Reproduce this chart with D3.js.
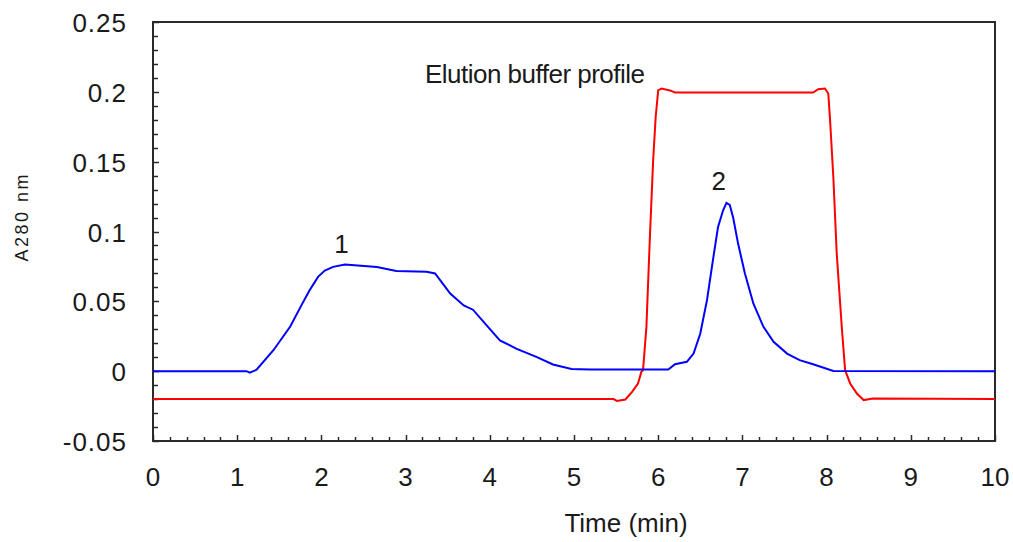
<!DOCTYPE html>
<html>
<head>
<meta charset="utf-8">
<script src="https://cdn.jsdelivr.net/npm/d3@7"></script>
<style>
  html, body { margin: 0; padding: 0; background: #fff; }
  svg text { font-family: "Liberation Sans Narrow", "Arial Narrow", "Liberation Sans", sans-serif; fill: #1a1a1a; }
</style>
</head>
<body>
<svg id="chart" width="1013" height="542"></svg>
<script>
// ── Data ──────────────────────────────────────────────────────────────────────

// sample absorbance (blue)
const sampleTime = [0, 1.11, 1.15, 1.23, 1.43, 1.63, 1.77, 1.86, 1.96, 2.04, 2.14, 2.28, 2.66, 2.89, 3.25, 3.35,
  3.53, 3.69, 3.80, 3.96, 4.12, 4.32, 4.56, 4.75, 4.97, 5.19, 6.12, 6.20, 6.34, 6.42, 6.50, 6.58, 6.65,
  6.71, 6.77, 6.81, 6.85, 6.89, 6.95, 7.03, 7.13, 7.25, 7.37, 7.53, 7.68, 7.84, 8.08, 10];
const sampleA280 = [0, 0, -0.001, 0.001, 0.015, 0.032, 0.048, 0.058, 0.0675, 0.072, 0.0747, 0.0764, 0.0745, 0.0718, 0.0711, 0.070,
  0.0556, 0.047, 0.044, 0.033, 0.022, 0.016, 0.010, 0.0048, 0.0015, 0.0012, 0.0012, 0.005, 0.0067, 0.0126, 0.027, 0.051, 0.0795,
  0.103, 0.115, 0.1205, 0.119, 0.110, 0.091, 0.070, 0.0485, 0.0317, 0.021, 0.0126, 0.0079, 0.005, 0.0002, 0];

// elution buffer profile (red)
const bufferTime = [0, 5.47, 5.51, 5.61, 5.69, 5.76, 5.80, 5.82, 5.86, 5.90, 5.94, 5.97, 6.00, 6.04, 6.14, 6.20,
  7.84, 7.90, 7.98, 8.02, 8.04, 8.08, 8.12, 8.18, 8.22, 8.28, 8.36, 8.44, 8.55, 10];
const bufferLevel = [-0.02, -0.02, -0.0213, -0.0203, -0.0148, -0.0088, -0.0005, 0.0007, 0.0317, 0.094, 0.151, 0.182, 0.201, 0.2024, 0.201, 0.1995,
  0.1995, 0.2019, 0.2024, 0.1988, 0.181, 0.139, 0.0845, 0.0317, 0.0007, -0.0088, -0.016, -0.0207, -0.0196, -0.02];

const xTicks = [0, 1, 2, 3, 4, 5, 6, 7, 8, 9, 10];
const yTicks = [-0.05, 0, 0.05, 0.1, 0.15, 0.2, 0.25];
const yTickLabels = ['-0.05', '0', '0.05', '0.1', '0.15', '0.2', '0.25'];

const peakLabels = [
  { text: '1', t: 2.24, v: 0.0845 },
  { text: '2', t: 6.72, v: 0.1297 },
];

// ── Layout ────────────────────────────────────────────────────────────────────

const plotL = 153, plotR = 995, plotT = 22, plotB = 441;

const svg = d3.select('#chart');

const x = d3.scaleLinear().domain([0, 10]).range([plotL, plotR]);
const y = d3.scaleLinear().domain([-0.05, 0.25]).range([plotB, plotT]);

// frame
svg.append('rect')
  .attr('x', plotL).attr('y', plotT)
  .attr('width', plotR - plotL).attr('height', plotB - plotT)
  .attr('fill', 'none').attr('stroke', '#2a2a2a').attr('stroke-width', 2);

// x ticks (inside, minor every 0.2)
const xMinor = d3.range(0, 10.001, 0.2);
svg.append('g').selectAll('line').data(xMinor).join('line')
  .attr('x1', d => Math.round(x(d)) + 0.5).attr('x2', d => Math.round(x(d)) + 0.5)
  .attr('y1', plotB).attr('y2', (d, i) => plotB - (i % 5 === 0 ? 6 : 4))
  .attr('stroke', '#2a2a2a').attr('stroke-width', 1.5);

// y ticks (inside, minor every 0.01)
const yMinor = d3.range(-0.05, 0.2501, 0.01);
svg.append('g').selectAll('line').data(yMinor).join('line')
  .attr('y1', d => Math.round(y(d)) + 0.5).attr('y2', d => Math.round(y(d)) + 0.5)
  .attr('x1', plotL).attr('x2', (d, i) => plotL + (i % 5 === 0 ? 6 : 5))
  .attr('stroke', '#2a2a2a').attr('stroke-width', 1.5);

// tick labels
svg.append('g').selectAll('text').data(xTicks).join('text')
  .attr('x', d => x(d)).attr('y', 486)
  .attr('text-anchor', 'middle')
  .attr('font-size', '26px')
  .text(d => d);

svg.append('g').selectAll('text').data(yTicks).join('text')
  .attr('x', 127).attr('y', d => y(d) + 10)
  .attr('text-anchor', 'end')
  .attr('font-size', '26px')
  .attr('letter-spacing', '1px')
  .text((d, i) => yTickLabels[i]);

// axis titles
svg.append('text')
  .attr('x', 626).attr('y', 532)
  .attr('text-anchor', 'middle')
  .attr('font-size', '26px')
  .text('Time (min)');

svg.append('text')
  .attr('transform', 'translate(28,218) rotate(-90)')
  .attr('text-anchor', 'middle')
  .attr('font-size', '18px')
  .attr('textLength', 87).attr('lengthAdjust', 'spacing')
  .text('A280 nm');

// ── Curves ────────────────────────────────────────────────────────────────────

const line = d3.line().x(d => x(d[0])).y(d => y(d[1]));

svg.append('path')
  .datum(bufferTime.map((t, i) => [t, bufferLevel[i]]))
  .attr('d', line)
  .attr('fill', 'none').attr('stroke', '#ff0000').attr('stroke-width', 2);

svg.append('path')
  .datum(sampleTime.map((t, i) => [t, sampleA280[i]]))
  .attr('d', line)
  .attr('fill', 'none').attr('stroke', '#0000ff').attr('stroke-width', 2);

// ── Annotations ───────────────────────────────────────────────────────────────

svg.append('g').selectAll('text').data(peakLabels).join('text')
  .attr('x', d => x(d.t)).attr('y', d => y(d.v))
  .attr('text-anchor', 'middle')
  .attr('font-size', '26px')
  .text(d => d.text);

svg.append('text')
  .attr('x', 425).attr('y', 83)
  .attr('font-size', '26px')
  .attr('textLength', 220).attr('lengthAdjust', 'spacing')
  .text('Elution buffer profile');
</script>
</body>
</html>
